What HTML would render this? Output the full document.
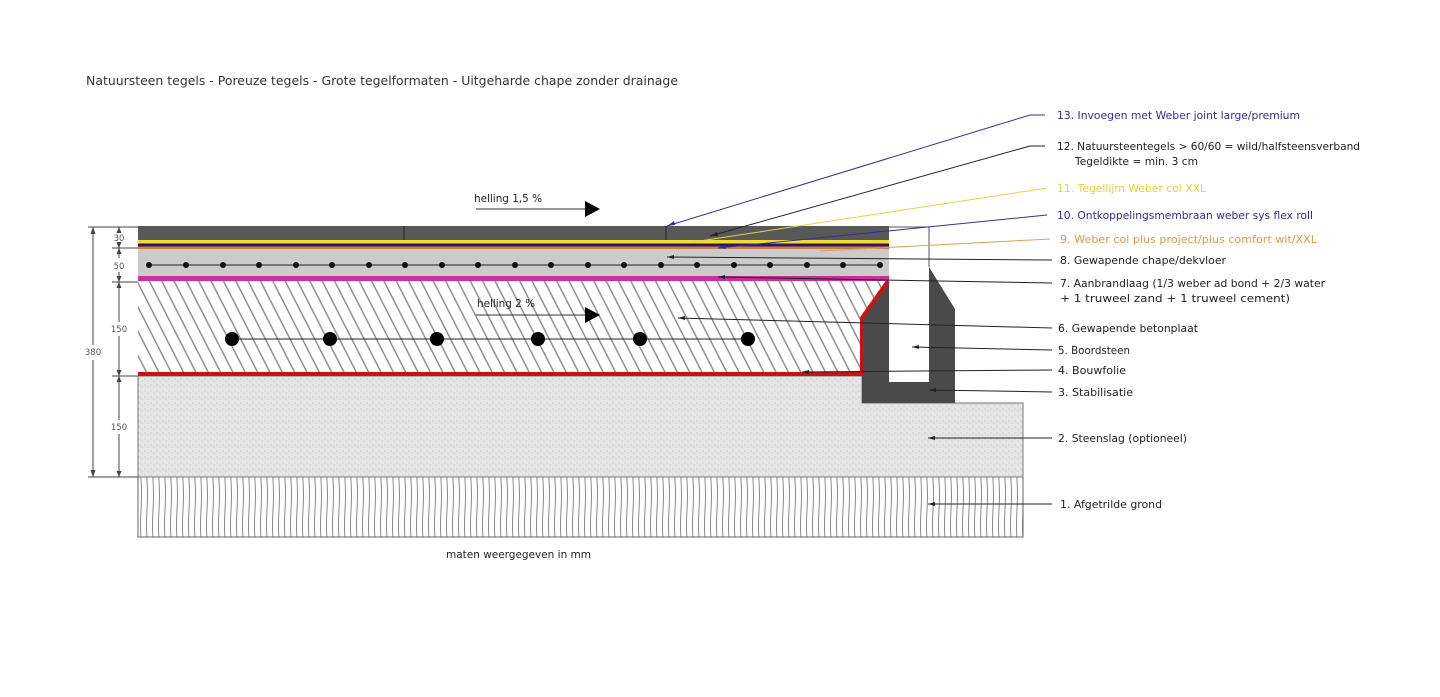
<!DOCTYPE html>
<html><head><meta charset="utf-8"><style>
html,body{margin:0;padding:0;background:#fff;}
svg{display:block;}
text{font-family:"DejaVu Sans","Liberation Sans",sans-serif;}
</style></head><body>
<svg width="1440" height="697" viewBox="0 0 1440 697" xmlns="http://www.w3.org/2000/svg">
<defs>
<pattern id="hatch" width="11" height="12" patternUnits="userSpaceOnUse" patternTransform="rotate(-27)">
<rect width="11" height="12" fill="#fff"/>
<line x1="5.5" y1="0" x2="5.5" y2="12" stroke="#868686" stroke-width="1.4"/>
</pattern>
<pattern id="gravel" width="6" height="6" patternUnits="userSpaceOnUse">
<rect width="6" height="6" fill="#e4e4e4"/>
<circle cx="1" cy="1" r="0.6" fill="#bbb"/>
<circle cx="4" cy="3" r="0.6" fill="#c4c4c4"/>
<circle cx="2" cy="5" r="0.5" fill="#f4f4f4"/>
<circle cx="5" cy="0.5" r="0.5" fill="#f5f5f5"/>
</pattern>
<pattern id="ground" width="6" height="60" patternUnits="userSpaceOnUse">
<rect width="6" height="60" fill="#fff"/>
<path d="M3 0 Q4 15 3 30 Q2 45 3 60" stroke="#8a8a8a" stroke-width="1" fill="none"/>
</pattern>
</defs>

<text x="86" y="85" font-size="12.5" fill="#333" textLength="592" lengthAdjust="spacingAndGlyphs">Natuursteen tegels - Poreuze tegels - Grote tegelformaten - Uitgeharde chape zonder drainage</text>

<rect x="138" y="477" width="885" height="60" fill="url(#ground)" stroke="#666" stroke-width="1"/>
<path d="M138 376 H862 V403 H1023 V477 H138 Z" fill="url(#gravel)" stroke="#777" stroke-width="1"/>
<path d="M138 281 H889 L862 318 V373 H138 Z" fill="url(#hatch)"/>
<path d="M889 281 V382 H929 V267 L955 309 V403 H862 V318 Z" fill="#4a4a4a"/>
<path d="M889 227 H929 V267" stroke="#555" stroke-width="1" fill="none"/>
<path d="M138 374 H862 V318 L888 281" stroke="#cc1111" stroke-width="4" fill="none"/>
<rect x="138" y="276" width="751" height="5" fill="#cc2f9a"/>
<rect x="138" y="249" width="751" height="27" fill="#cbcbcb"/>
<rect x="138" y="246.5" width="751" height="2.5" fill="#d07a4a"/>
<rect x="138" y="243.5" width="751" height="3" fill="#2a1a60"/>
<rect x="138" y="240" width="751" height="3.5" fill="#f0dc30"/>
<rect x="138" y="226" width="751" height="14" fill="#585858"/>
<line x1="404" y1="226" x2="404" y2="240" stroke="#222" stroke-width="1"/>
<line x1="666" y1="226" x2="666" y2="240" stroke="#222" stroke-width="1"/>

<line x1="149" y1="265" x2="880" y2="265" stroke="#222" stroke-width="1"/>
<g fill="#111">
<circle cx="149" cy="265" r="3"/><circle cx="186" cy="265" r="3"/><circle cx="223" cy="265" r="3"/><circle cx="259" cy="265" r="3"/><circle cx="296" cy="265" r="3"/><circle cx="332" cy="265" r="3"/><circle cx="369" cy="265" r="3"/><circle cx="405" cy="265" r="3"/><circle cx="442" cy="265" r="3"/><circle cx="478" cy="265" r="3"/><circle cx="515" cy="265" r="3"/><circle cx="551" cy="265" r="3"/><circle cx="588" cy="265" r="3"/><circle cx="624" cy="265" r="3"/><circle cx="661" cy="265" r="3"/><circle cx="697" cy="265" r="3"/><circle cx="734" cy="265" r="3"/><circle cx="770" cy="265" r="3"/><circle cx="807" cy="265" r="3"/><circle cx="843" cy="265" r="3"/><circle cx="880" cy="265" r="3"/>
</g>
<line x1="232" y1="339" x2="748" y2="339" stroke="#222" stroke-width="1"/>
<g fill="#000">
<circle cx="232" cy="339" r="7"/><circle cx="330" cy="339" r="7"/><circle cx="437" cy="339" r="7"/><circle cx="538" cy="339" r="7"/><circle cx="640" cy="339" r="7"/><circle cx="748" cy="339" r="7"/>
</g>

<text x="474" y="202" font-size="11" fill="#222" textLength="68" lengthAdjust="spacingAndGlyphs">helling 1,5 %</text>
<line x1="476" y1="209" x2="586" y2="209" stroke="#333" stroke-width="1"/>
<polygon points="585,201 600,209 585,217" fill="#000"/>
<text x="477" y="307" font-size="11" fill="#222" textLength="58" lengthAdjust="spacingAndGlyphs">helling 2 %</text>
<line x1="476" y1="315" x2="586" y2="315" stroke="#333" stroke-width="1"/>
<polygon points="585,307 600,315 585,323" fill="#000"/>

<g stroke="#444" stroke-width="1" fill="none">
<line x1="88" y1="227" x2="138" y2="227"/>
<line x1="112" y1="248" x2="138" y2="248"/>
<line x1="112" y1="282" x2="138" y2="282"/>
<line x1="112" y1="376" x2="138" y2="376"/>
<line x1="88" y1="477" x2="138" y2="477"/>
<line x1="93" y1="227" x2="93" y2="345"/>
<line x1="93" y1="360" x2="93" y2="477"/>
<line x1="119" y1="227" x2="119" y2="231"/>
<line x1="119" y1="243" x2="119" y2="258"/>
<line x1="119" y1="272" x2="119" y2="322"/>
<line x1="119" y1="336" x2="119" y2="420"/>
<line x1="119" y1="434" x2="119" y2="477"/>
</g>
<g fill="#444">
<polygon points="90.5,234 93,227 95.5,234"/><polygon points="90.5,470 93,477 95.5,470"/>
<polygon points="116.5,233 119,227 121.5,233"/><polygon points="116.5,242 119,248 121.5,242"/>
<polygon points="116.5,254 119,248 121.5,254"/><polygon points="116.5,276 119,282 121.5,276"/>
<polygon points="116.5,288 119,282 121.5,288"/><polygon points="116.5,370 119,376 121.5,370"/>
<polygon points="116.5,382 119,376 121.5,382"/><polygon points="116.5,471 119,477 121.5,471"/>
</g>
<g font-size="8.5" fill="#555" text-anchor="middle">
<text x="119" y="241">30</text>
<text x="119" y="269">50</text>
<text x="119" y="332">150</text>
<text x="93" y="355">380</text>
<text x="119" y="430">150</text>
</g>

<g stroke-width="1" fill="none">
<path d="M1045 115 H1030 L667 226" stroke="#3030a0"/>
<path d="M1045 146 H1030 L710 236" stroke="#222"/>
<path d="M1047 188 L693 242" stroke="#e8d040"/>
<path d="M1047 215 L718 248" stroke="#3030a0"/>
<path d="M1050 239 L820 251" stroke="#e0a050"/>
<path d="M1052 260 L667 257" stroke="#222"/>
<path d="M1052 283 L718 277" stroke="#222"/>
<path d="M1052 328 L678 318" stroke="#222"/>
<path d="M1052 350 L912 347" stroke="#222"/>
<path d="M1052 370 L802 372" stroke="#222"/>
<path d="M1052 392 L929 390" stroke="#222"/>
<path d="M1052 438 L928 438" stroke="#222"/>
<path d="M1052 504 L928 504" stroke="#222"/>
</g>
<g>
<polygon points="667,226 674,221 675,225" fill="#3030a0"/>
<polygon points="710,236 717,232 718,236" fill="#222"/>
<polygon points="718,248 725,245 726,249" fill="#3030a0"/>
<polygon points="667,257 674,255 674,259" fill="#222"/>
<polygon points="718,277 725,275 725,279" fill="#222"/>
<polygon points="678,318 685,316 685,320" fill="#222"/>
<polygon points="912,347 919,345 919,349" fill="#222"/>
<polygon points="802,372 809,370 809,374" fill="#222"/>
<polygon points="929,390 936,388 936,392" fill="#222"/>
<polygon points="928,438 935,436 935,440" fill="#222"/>
<polygon points="928,504 935,502 935,506" fill="#222"/>
</g>

<g font-size="11">
<text x="1057" y="119" fill="#2e2e96" textLength="243" lengthAdjust="spacingAndGlyphs">13. Invoegen met Weber joint large/premium</text>
<text x="1057" y="150" fill="#222" textLength="303" lengthAdjust="spacingAndGlyphs">12. Natuursteentegels &gt; 60/60 = wild/halfsteensverband</text>
<text x="1075" y="165" fill="#222" textLength="123" lengthAdjust="spacingAndGlyphs">Tegeldikte = min. 3 cm</text>
<text x="1057" y="192" fill="#e8cf3a" textLength="149" lengthAdjust="spacingAndGlyphs">11. Tegellijm Weber col XXL</text>
<text x="1057" y="219" fill="#2e2e96" textLength="256" lengthAdjust="spacingAndGlyphs">10. Ontkoppelingsmembraan weber sys flex roll</text>
<text x="1060" y="243" fill="#e09a40" textLength="257" lengthAdjust="spacingAndGlyphs">9. Weber col plus project/plus comfort wit/XXL</text>
<text x="1060" y="264" fill="#222" textLength="166" lengthAdjust="spacingAndGlyphs">8. Gewapende chape/dekvloer</text>
<text x="1060" y="287" fill="#222" textLength="265" lengthAdjust="spacingAndGlyphs">7. Aanbrandlaag (1/3 weber ad bond + 2/3 water</text>
<text x="1060" y="302" fill="#222" font-size="10.5" textLength="230" lengthAdjust="spacingAndGlyphs">+ 1 truweel zand + 1 truweel cement)</text>
<text x="1058" y="332" fill="#222" textLength="140" lengthAdjust="spacingAndGlyphs">6. Gewapende betonplaat</text>
<text x="1058" y="354" fill="#222" textLength="72" lengthAdjust="spacingAndGlyphs">5. Boordsteen</text>
<text x="1058" y="374" fill="#222" textLength="68" lengthAdjust="spacingAndGlyphs">4. Bouwfolie</text>
<text x="1058" y="396" fill="#222" textLength="75" lengthAdjust="spacingAndGlyphs">3. Stabilisatie</text>
<text x="1058" y="442" fill="#222" textLength="129" lengthAdjust="spacingAndGlyphs">2. Steenslag (optioneel)</text>
<text x="1060" y="508" fill="#222" textLength="102" lengthAdjust="spacingAndGlyphs">1. Afgetrilde grond</text>
<text x="446" y="558" fill="#222" textLength="145" lengthAdjust="spacingAndGlyphs">maten weergegeven in mm</text>
</g>
</svg>
</body></html>
